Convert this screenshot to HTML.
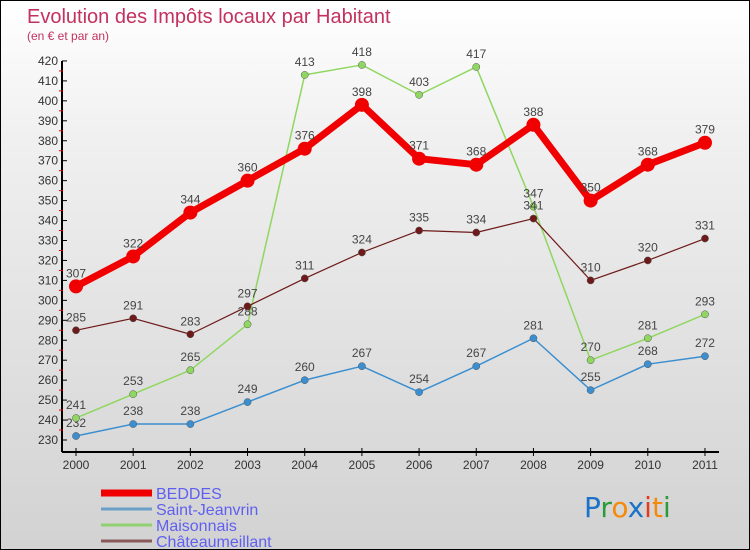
<!DOCTYPE html>
<html><head><meta charset="utf-8"><style>
body{margin:0}
#c{width:750px;height:550px;position:relative;overflow:hidden;box-sizing:border-box;border:1px solid #000;background:linear-gradient(#ffffff,#f0f0f0 25%,#d2d2d2);font-family:"Liberation Sans",sans-serif}
</style></head><body>
<div id="c">
<svg id="s" width="750" height="550" style="position:absolute;left:0;top:0">
<text x="26" y="22" font-size="20" fill="#c2315f">Evolution des Impôts locaux par Habitant</text>
<text x="26" y="39" font-size="12" fill="#c2315f">(en € et par an)</text>
<g id="axes"></g><g id="series"></g><g id="legend"></g>
<text x="583" y="516" font-size="28" font-family="DejaVu Sans"><tspan fill="#1a73c8">P</tspan><tspan fill="#2a9a3a">r</tspan><tspan fill="#f58a0a">o</tspan><tspan fill="#1a73c8">x</tspan><tspan fill="#e53a1a">i</tspan><tspan fill="#f58a0a">t</tspan><tspan fill="#2a9a3a">i</tspan></text>
</svg></div>
<script>
const years=["2000","2001","2002","2003","2004","2005","2006","2007","2008","2009","2010","2011"];
const yTicks=[230,240,250,260,270,280,290,300,310,320,330,340,350,360,370,380,390,400,410,420];
const beddes=[307,322,344,360,376,398,371,368,388,350,368,379];
const saintJeanvrin=[232,238,238,249,260,267,254,267,281,255,268,272];
const maisonnais=[241,253,265,288,413,418,403,417,347,270,281,293];
const chateau=[285,291,283,297,311,324,335,334,341,310,320,331];
const NS="http://www.w3.org/2000/svg";
const X=i=>75+i*57.18, Y=v=>439-(v-230)*1.995;
function mk(t,a,p,name){const e=document.createElementNS(NS,t);for(const k in a)e.setAttribute(k,a[k]);


p.appendChild(e);return e;}
const ax=document.getElementById('axes');
mk('line',{x1:61,y1:Y(420),x2:61,y2:451,stroke:'#000','stroke-width':2},ax,'y-axis');
mk('line',{x1:61,y1:451,x2:718,y2:451,stroke:'#000','stroke-width':2},ax,'x-axis');
yTicks.forEach(v=>{mk('line',{x1:61,y1:Y(v),x2:66,y2:Y(v),stroke:'#000'},ax,'y-tick');
const t=mk('text',{x:57,y:Y(v)+4,'font-size':12,'text-anchor':'end',fill:'#333'},ax,'y-tick-label');t.textContent=v;
if(v<420)mk('line',{x1:58,y1:Y(v+5),x2:62,y2:Y(v+5),stroke:'#e00'},ax,'y-minor-tick');});
years.forEach((y,i)=>{mk('line',{x1:X(i),y1:447,x2:X(i),y2:455,stroke:'#000'},ax,'x-tick');
const t=mk('text',{x:X(i),y:468,'font-size':12,'text-anchor':'middle',fill:'#333'},ax,'x-tick-label');t.textContent=y;});
const sg=document.getElementById('series');
function series(d,col,w,r,name){const pts=d.map((v,i)=>X(i)+','+Y(v)).join(' ');
mk('polyline',{points:pts,fill:'none',stroke:col,'stroke-width':w,'stroke-linejoin':'round'},sg,name+'-line');
d.forEach((v,i)=>{mk('circle',{cx:X(i),cy:Y(v),r:r,fill:col,stroke:w>3?'none':'#555','stroke-width':0.5},sg,name+'-point');
const t=mk('text',{x:X(i),y:Y(v)-9,'font-size':12,'text-anchor':'middle',fill:'#444'},sg,name+'-value');t.textContent=v;});}
series(saintJeanvrin,'#3b8fd0',1.5,3.6,'saint-jeanvrin');
series(maisonnais,'#8fd760',1.5,3.6,'maisonnais');
series(chateau,'#6e1a1a',1.2,3.6,'chateaumeillant');
series(beddes,'#f00000',7,7,'beddes');
const lg=document.getElementById('legend');
[["BEDDES",'#f00000',7],["Saint-Jeanvrin",'#6aa0c8',3],["Maisonnais",'#90d070',3],["Châteaumeillant",'#8a5a5a',3]].forEach((e,i)=>{
const y=492+i*16;mk('line',{x1:100,y1:y,x2:151,y2:y,stroke:e[1],'stroke-width':e[2]},lg,'legend-swatch');
const t=mk('text',{x:155,y:y+6,'font-size':16,fill:'#6060f0'},lg,'legend-label');t.textContent=e[0];});
</script></body></html>
